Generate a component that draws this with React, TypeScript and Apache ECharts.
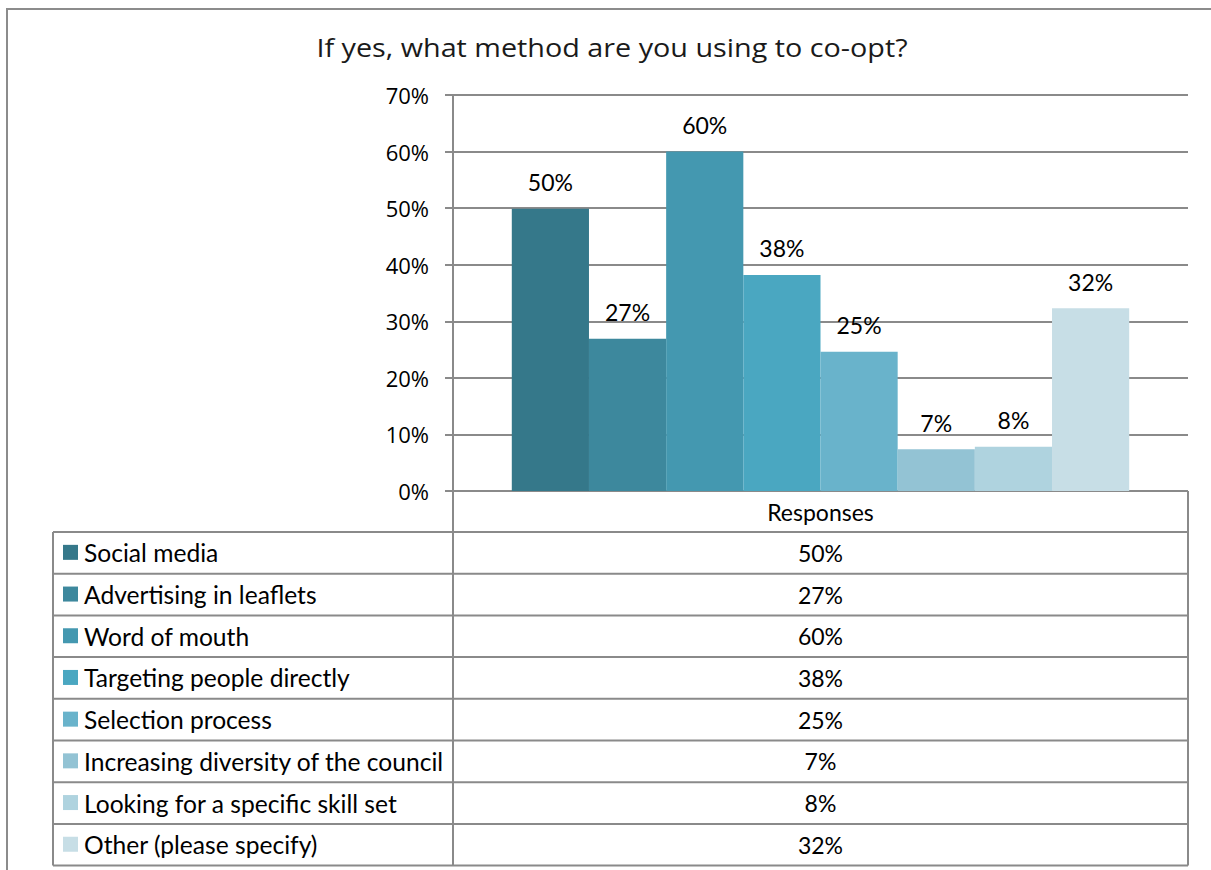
import React, { useEffect, useRef } from "react";
import * as echarts from "echarts";

const title = "If yes, what method are you using to co-opt?";
const columnHeader = "Responses";
const methods = [
  "Social media",
  "Advertising in leaflets",
  "Word of mouth",
  "Targeting people directly",
  "Selection process",
  "Increasing diversity of the council",
  "Looking for a specific skill set",
  "Other (please specify)",
];
const responses = [49.9, 26.9, 60.0, 38.2, 24.6, 7.4, 7.8, 32.3];
const colors = ["#35788A", "#3D889D", "#4498B0", "#4AA7C1", "#69B3CB", "#93C3D4", "#AFD3DF", "#C7DEE6"];
const yTicks = { min: 0, max: 70, interval: 10 };

const GRID = { left: 453, top: 95, width: 735, height: 396 };
const TABLE = { left: 53, headerTop: 491, rowTop: 532, rowH: 41.7, right: 1188 };
const LINE = "#8a8a8a";
const FONT = "Lato, 'Open Sans', sans-serif";
const FONT2 = "'Open Sans', sans-serif";

export default function App() {
  const ref = useRef<HTMLDivElement>(null);
  useEffect(() => {
    if (!ref.current) return;
    const chart = echarts.init(ref.current, undefined, { renderer: "svg" });
    const fmt = (v: number) => `${Math.round(v)}%`;
    const tableBottom = TABLE.rowTop + TABLE.rowH * methods.length;
    const graphics: any[] = [];
    graphics.push({
      type: "rect",
      shape: { x: 7, y: 9, width: 1220, height: 900 },
      style: { fill: "none", stroke: "#8c8c8c", lineWidth: 2 },
      silent: true,
    });
    graphics.push({
      type: "text",
      x: 612,
      y: 47,
      scaleX: 1.15,
      style: { text: title, font: `25px ${FONT2}`, fill: "#1a1a1a", align: "center", verticalAlign: "middle" },
    });
    graphics.push({
      type: "text",
      x: (GRID.left + TABLE.right) / 2,
      y: (TABLE.headerTop + TABLE.rowTop) / 2,
      style: { text: columnHeader, font: `23px ${FONT}`, fill: "#000", align: "center", verticalAlign: "middle" },
    });
    graphics.push({ type: "line", shape: { x1: GRID.left, y1: TABLE.headerTop, x2: GRID.left, y2: tableBottom }, style: { stroke: LINE, lineWidth: 2 } });
    graphics.push({ type: "line", shape: { x1: TABLE.right, y1: TABLE.headerTop, x2: TABLE.right, y2: tableBottom }, style: { stroke: LINE, lineWidth: 2 } });
    graphics.push({ type: "line", shape: { x1: TABLE.left, y1: TABLE.rowTop, x2: TABLE.left, y2: tableBottom }, style: { stroke: LINE, lineWidth: 2 } });
    for (let i = 0; i <= methods.length; i++) {
      const y = TABLE.rowTop + TABLE.rowH * i;
      graphics.push({ type: "line", shape: { x1: TABLE.left, y1: y, x2: TABLE.right, y2: y }, style: { stroke: LINE, lineWidth: 2 } });
    }
    methods.forEach((m, i) => {
      const cy = TABLE.rowTop + TABLE.rowH * i + TABLE.rowH / 2;
      graphics.push({ type: "rect", shape: { x: 63, y: cy - 8, width: 15, height: 15 }, style: { fill: colors[i] } });
      graphics.push({
        type: "text", x: 84, y: cy,
        style: { text: m, font: `24.6px ${FONT}`, fill: "#000", align: "left", verticalAlign: "middle" },
      });
      graphics.push({
        type: "text", x: (GRID.left + TABLE.right) / 2, y: cy,
        style: { text: fmt(responses[i]), font: `23px ${FONT}`, fill: "#000", align: "center", verticalAlign: "middle" },
      });
    });

    chart.setOption({
      animation: false,
      backgroundColor: "#fff",
      grid: { left: GRID.left, top: GRID.top, width: GRID.width, height: GRID.height },
      xAxis: {
        type: "category",
        data: [columnHeader],
        axisLabel: { show: false },
        axisTick: { show: false },
        axisLine: { show: false },
      },
      yAxis: {
        type: "value",
        min: yTicks.min,
        max: yTicks.max,
        interval: yTicks.interval,
        axisLabel: { formatter: "{value}%", fontFamily: FONT2, fontSize: 22, color: "#000", margin: 24 },
        axisLine: { show: true, lineStyle: { color: LINE, width: 2 } },
        axisTick: { show: true, length: 8, lineStyle: { color: LINE, width: 2 } },
        splitLine: { show: true, lineStyle: { color: LINE, width: 2 } },
      },
      series: methods.map((m, i) => ({
        type: "bar",
        name: m,
        data: [responses[i]],
        itemStyle: { color: colors[i] },
        barGap: "0%",
        barCategoryGap: "16%",
        label: {
          show: true,
          position: "top",
          distance: 15,
          formatter: (p: any) => fmt(p.value),
          fontFamily: FONT,
          fontSize: 23,
          color: "#000",
        },
      })),
      graphic: graphics,
    });
    return () => chart.dispose();
  }, []);
  return <div ref={ref} style={{ position: "absolute", left: 0, top: 0, width: 1211, height: 870 }} />;
}
